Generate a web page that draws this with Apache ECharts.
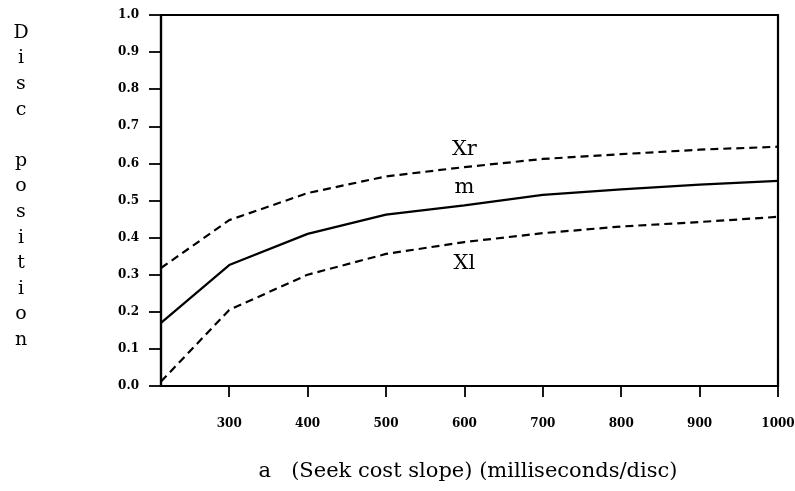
<!DOCTYPE html>
<html><head><meta charset="utf-8">
<script src="https://cdn.jsdelivr.net/npm/echarts@6/dist/echarts.min.js"></script>
<style>html,body{margin:0;padding:0;background:#fff}#c{width:795px;height:491px}</style>
</head><body><div id="c"></div>
<script>
const aValues = [213, 300, 400, 500, 600, 700, 800, 900, 1000];
const xTicks = [300, 400, 500, 600, 700, 800, 900, 1000];
const mValues = [0.17, 0.326, 0.41, 0.462, 0.487, 0.515, 0.53, 0.543, 0.553];
const xrValues = [0.318, 0.447, 0.52, 0.565, 0.59, 0.612, 0.625, 0.637, 0.645];
const xlValues = [0.012, 0.205, 0.30, 0.356, 0.388, 0.412, 0.43, 0.442, 0.456];
const curveLabels = [
  {name: 'Xr', a: 600, y: 0.637},
  {name: 'm', a: 600, y: 0.535},
  {name: 'Xl', a: 600, y: 0.33}
];
const yLetters = 'Disc position';

const pair = v => aValues.map((a, i) => [a, v[i]]);
const serif = 'DejaVu Serif';
const tickFamily = 'DejaVu Serif';

const chart = echarts.init(document.getElementById('c'));
chart.setOption({
  animation: false,
  backgroundColor: '#fff',
  grid: {left: 161, top: 15, right: 17, bottom: 105, show: true, borderColor: '#000', borderWidth: 2.2,
         containLabel: false, outerBoundsMode: 'none'},
  xAxis: {
    type: 'value', min: 213, max: 1000,
    axisLine: {show: true, lineStyle: {color: '#000', width: 2.2}},
    axisTick: {show: true, customValues: xTicks, length: 11, lineStyle: {color: '#000', width: 1.8}},
    axisLabel: {customValues: xTicks, margin: 32, formatter: v => String(v),
      fontFamily: tickFamily, fontWeight: 'bold', fontSize: 12, color: '#000'},
    splitLine: {show: false}
  },
  yAxis: {
    type: 'value', min: 0, max: 1, interval: 0.1,
    axisLine: {show: true, lineStyle: {color: '#000', width: 2.2}},
    axisTick: {show: true, length: 12, lineStyle: {color: '#000', width: 1.8}},
    axisLabel: {margin: 22, formatter: v => v.toFixed(1),
      fontFamily: tickFamily, fontWeight: 'bold', fontSize: 12, color: '#000'},
    splitLine: {show: false}
  },
  series: [
    {type: 'line', data: pair(mValues), symbol: 'none', lineStyle: {color: '#000', width: 2.2},
     markPoint: {symbol: 'circle', symbolSize: 0, silent: true,
       data: curveLabels.map(l => ({coord: [l.a, l.y], value: l.name})),
       label: {show: true, formatter: p => p.value, fontFamily: serif, fontSize: 21, color: '#000', position: 'inside'}}},
    {type: 'line', data: pair(xrValues), symbol: 'none', lineStyle: {color: '#000', width: 2.2, type: [8, 5]}},
    {type: 'line', data: pair(xlValues), symbol: 'none', lineStyle: {color: '#000', width: 2.2, type: [8, 5]}}
  ],
  graphic: [
    {type: 'text',
     style: {text: 'a   (Seek cost slope) (milliseconds/disc)', x: 468, y: 472, align: 'center', verticalAlign: 'middle',
       fontFamily: serif, fontSize: 21, fill: '#000'}},
    {type: 'text',
     style: {text: yLetters.split('').join('\n'), x: 21, y: 20, align: 'center', verticalAlign: 'top',
       lineHeight: 25.6, fontFamily: serif, fontSize: 19, fill: '#000'}}
  ]
});
</script></body></html>
